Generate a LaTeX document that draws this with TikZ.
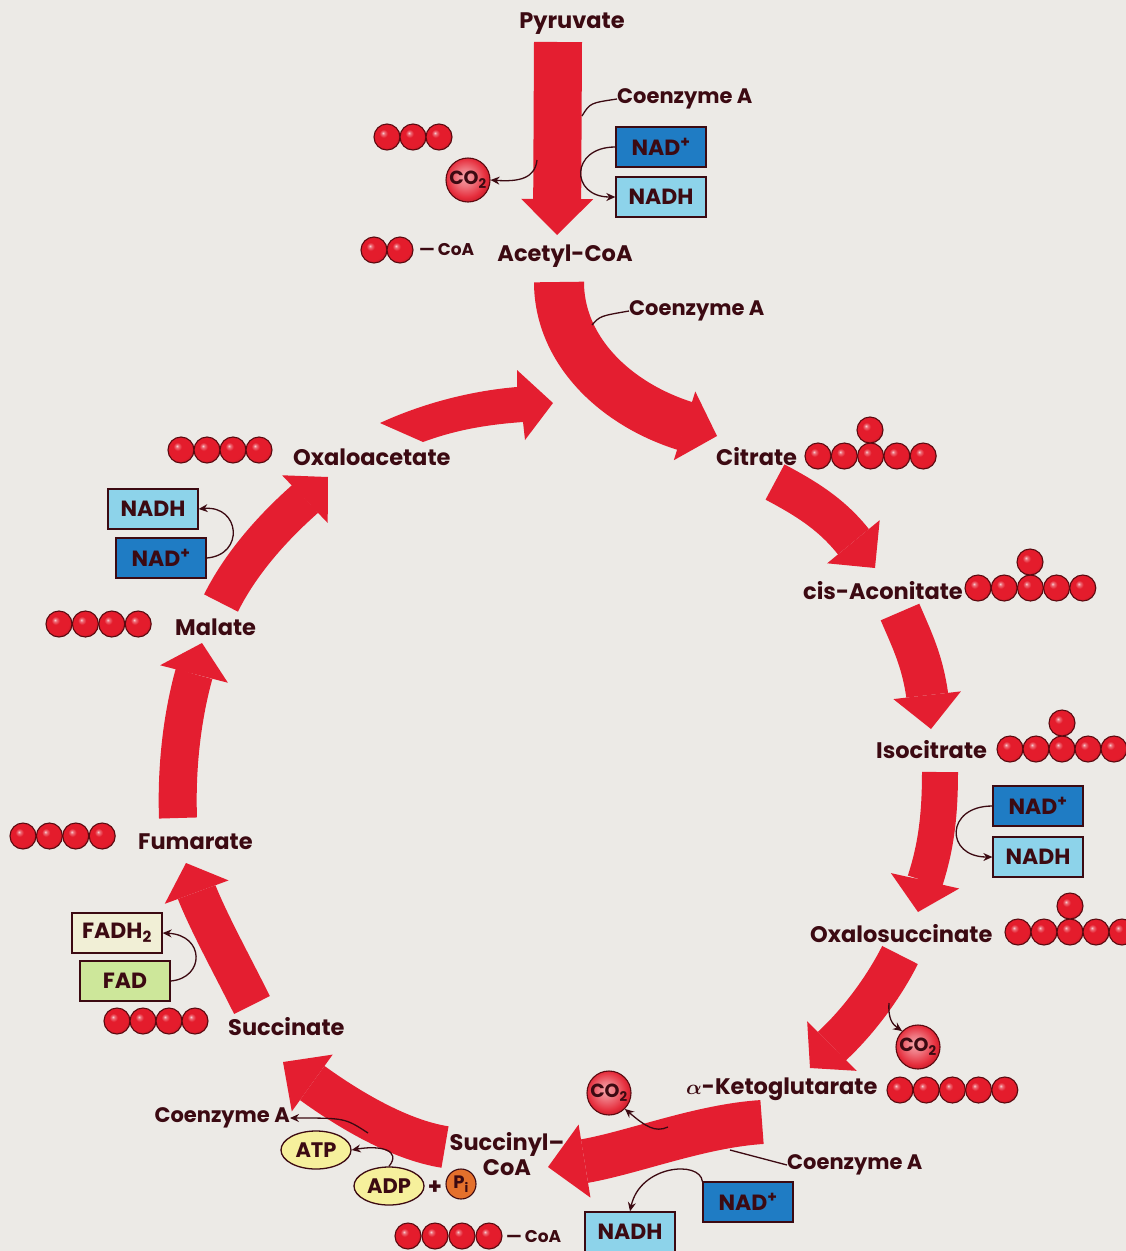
\documentclass[tikz,border=0pt]{standalone}
\usepackage{fontspec}
\usepackage{bm}
\setmainfont{Poppins}
\usetikzlibrary{arrows.meta,shapes.geometric}
\definecolor{bg}{HTML}{ECEAE6}
\definecolor{flowred}{HTML}{E41E30}
\definecolor{ink}{HTML}{3C0A12}
\definecolor{nadblue}{HTML}{1F7CC4}
\definecolor{nadhcyan}{HTML}{8DD3EA}
\definecolor{fadhcream}{HTML}{F1EFD6}
\definecolor{fadgreen}{HTML}{CDE79A}
\definecolor{atpyellow}{HTML}{F6F09C}
\definecolor{piorange}{HTML}{E4702C}
\definecolor{ballred}{HTML}{E41C2C}
\definecolor{ballrim}{HTML}{5A0A10}
% glossy carbon atom: small highlight at the upper left
\pgfdeclareradialshading{redball}{\pgfpoint{-8bp}{8bp}}{%
  color(0bp)=(white!80!ballred); color(3bp)=(ballred!65!white);
  color(8bp)=(ballred); color(24bp)=(ballred);
  color(33bp)=(ballred!78!black); color(50bp)=(ballred!60!black)}
% carbon dioxide sphere: paler core
\pgfdeclareradialshading{gasball}{\pgfpoint{-4bp}{4bp}}{%
  color(0bp)=(ballred!40!white); color(10bp)=(ballred!60!white);
  color(22bp)=(ballred!92!white); color(29bp)=(ballred!85!black);
  color(50bp)=(ballred!60!black)}

\begin{document}
\begin{tikzpicture}[x=1pt,y=-1pt,
  every node/.style={inner sep=0pt, text=ink},
  lbl/.style={font=\fontsize{22.5}{25}\selectfont\bfseries},
  coa/.style={font=\fontsize{21}{23}\selectfont\bfseries},
  tag/.style={font=\fontsize{17}{19}\selectfont\bfseries},
  flow/.style n args={3}{draw=flowred, line width=#1, line cap=butt,
    -{Triangle[width=#2, length=#3, line width=0pt]}},
  link/.style={draw=ink, line width=1.3pt},
  linkto/.style={link, -{Stealth[length=9pt, width=8pt]}},
  cof/.style={draw=ink, line width=1.3pt, minimum width=90pt, minimum height=40pt,
    font=\fontsize{22}{24}\selectfont\bfseries},
  nadp/.style={cof, fill=nadblue},
  nadh/.style={cof, fill=nadhcyan},
  nrg/.style={ellipse, draw=ink, line width=1.3pt, fill=atpyellow,
    minimum width=70pt, minimum height=38pt, font=\fontsize{21}{23}\selectfont\bfseries},
  ball/.style={circle, minimum size=26pt, draw=ballrim, line width=1.1pt, shade, shading=redball},
  gas/.style={circle, minimum size=44pt, draw=ballrim, line width=1.1pt, shade, shading=gasball,
    font=\fontsize{19}{21}\selectfont\bfseries},
]
% canvas
\fill[bg] (0,0) rectangle (1126,1251);
\useasboundingbox (0,0) rectangle (1126,1251);

% ---------- pyruvate to acetyl-CoA ----------
\node[lbl] (pyr) at (572,24) {Pyruvate};
\coordinate (a1s) at (558,42);
\coordinate (a1e) at (557,235);
\draw[flow={48pt}{72pt}{36pt}] (a1s) -- (a1e);
\node[coa, anchor=west] (coaTop) at (617,99) {Coenzyme A};
\coordinate (coaTopJ) at (582,116);
\draw[link] (coaTopJ) .. controls (590,103) .. (coaTop.west);
\node[nadp] (nadpA) at (661,147) {NAD\textsuperscript{+}};
\node[nadh] (nadhA) at (661,197) {NADH};
\draw[linkto] (nadpA.west) .. controls (570,147) and (570,197) .. (nadhA.west);
\node[gas] (co2A) at (468,180) {CO\textsubscript{2}};
\coordinate (co2AJ) at (537,160);
\draw[linkto] (co2AJ) .. controls (535,178) and (520,182) .. (co2A.east);
\foreach \i in {0,1,2} \node[ball] (pyrC\i) at ({387+26*\i},137) {};
\foreach \i in {0,1} \node[ball] (acC\i) at ({374+26*\i},250) {};
\node[tag, anchor=west] (acCoA) at (419,250) {—\,CoA};
\node[lbl] (acetyl) at (565,256) {Acetyl-CoA};

% ---------- acetyl-CoA to citrate ----------
\coordinate (a2s) at (559,282);
\coordinate (a2b) at (685,426);
\coordinate (a2e) at (717,436);
\draw[flow={50pt}{72pt}{34pt}] (a2s) .. controls (559,350) and (615,404) .. (a2b) -- (a2e);
\node[coa, anchor=west] (coaSec) at (629,311) {Coenzyme A};
\coordinate (coaSecJ) at (592,325);
\draw[link] (coaSecJ) .. controls (600,316) .. (coaSec.west);

% ---------- oxaloacetate joins ----------
\fill[flowred] (380,423) .. controls (430,400) and (480,390) .. (517,387)
  -- (517,370) -- (553,403) -- (525,440) -- (523,422)
  .. controls (480,425) and (450,432) .. (423,442) -- cycle;
\node[lbl, anchor=west] (oxa) at (293,457) {Oxaloacetate};
\foreach \i in {0,...,3} \node[ball] (oxaC\i) at ({181+26*\i},450) {};

% ---------- citrate ----------
\node[lbl, anchor=west] (cit) at (716,457) {Citrate};
\foreach \i in {0,...,4} \node[ball] (citC\i) at ({818+26.3*\i},456) {};
\node[ball] (citT) at (870,430) {};
\coordinate (a4s) at (775,482);
\coordinate (a4b) at (852,540);
\coordinate (a4e) at (875,568);
\draw[flow={40pt}{68pt}{34pt}] (a4s) .. controls (805,498) and (830,513) .. (a4b) -- (a4e);

% ---------- cis-aconitate ----------
\node[lbl, anchor=west] (cis) at (803,591) {cis-Aconitate};
\foreach \i in {0,...,4} \node[ball] (cisC\i) at ({978+26.2*\i},588) {};
\node[ball] (cisT) at (1030,562) {};
\coordinate (a5s) at (900,612);
\coordinate (a5b) at (927,694);
\coordinate (a5e) at (931,729);
\draw[flow={42pt}{68pt}{34pt}] (a5s) .. controls (912,640) and (922,660) .. (a5b) -- (a5e);

% ---------- isocitrate ----------
\node[lbl, anchor=west] (iso) at (876,750) {Isocitrate};
\foreach \i in {0,...,4} \node[ball] (isoC\i) at ({1010+26*\i},749) {};
\node[ball] (isoT) at (1062,723) {};
\coordinate (a6s) at (940,772);
\coordinate (a6b) at (925,881);
\coordinate (a6e) at (918,912);
\draw[flow={36pt}{70pt}{32pt}] (a6s) .. controls (940,820) and (935,850) .. (a6b) -- (a6e);
\node[nadp] (nadpB) at (1038,806) {NAD\textsuperscript{+}};
\node[nadh] (nadhB) at (1038,857) {NADH};
\draw[linkto] (nadpB.west) .. controls (945,806) and (945,857) .. (nadhB.west);

% ---------- oxalosuccinate ----------
\node[lbl, anchor=west] (oxs) at (810,934) {Oxalosuccinate};
\foreach \i in {0,...,4} \node[ball] (oxsC\i) at ({1018+26*\i},932) {};
\node[ball] (oxsT) at (1070,906) {};
\coordinate (a7s) at (900,955);
\coordinate (a7b) at (832,1046);
\coordinate (a7e) at (810,1068);
\draw[flow={40pt}{70pt}{31pt}] (a7s) .. controls (885,985) and (860,1020) .. (a7b) -- (a7e);
\node[gas] (co2B) at (918,1047) {CO\textsubscript{2}};
\coordinate (co2BJ) at (889,1003);
\draw[linkto] (co2BJ) .. controls (888,1018) and (892,1024) .. (co2B.north west);

% ---------- alpha-ketoglutarate ----------
\node[lbl, anchor=west] (akg) at (686,1089) {$\bm{\alpha}$-Ketoglutarate};
\foreach \i in {0,...,4} \node[ball] (akgC\i) at ({900+26.2*\i},1090) {};
\coordinate (a8s) at (762,1122);
\coordinate (a8b) at (585,1161);
\coordinate (a8e) at (548,1167);
\draw[flow={44pt}{74pt}{37pt}] (a8s) .. controls (700,1126) and (635,1152) .. (a8b) -- (a8e);
\node[gas] (co2C) at (609,1093) {CO\textsubscript{2}};
\coordinate (co2CJ) at (668,1127);
\draw[linkto] (co2CJ) .. controls (655,1133) and (645,1126) .. (co2C.south east);
\node[coa, anchor=west] (coaThird) at (787,1165) {Coenzyme A};
\coordinate (coaThirdJ) at (730,1150);
\draw[link] (coaThirdJ) -- (coaThird.west);
\node[nadp] (nadpC) at (748,1202) {NAD\textsuperscript{+}};
\node[nadh] (nadhC) at (630,1232) {NADH};
\draw[linkto] (nadpC.north west) .. controls (700,1160) and (640,1165) .. (nadhC.north);

% ---------- succinyl-CoA ----------
\node[lbl, align=center] (sucoa) at (507,1154) {Succinyl–\\CoA};
\coordinate (a9s) at (445,1147);
\coordinate (a9b) at (315,1085);
\coordinate (a9e) at (283,1062);
\draw[flow={42pt}{70pt}{36pt}] (a9s) .. controls (400,1140) and (350,1110) .. (a9b) -- (a9e);
\node[coa, anchor=east] (coaFourth) at (290,1118) {Coenzyme A};
\coordinate (coaFourthJ) at (368,1133);
\draw[linkto] (coaFourthJ) .. controls (345,1118) .. (coaFourth.east);
\node[nrg] (atp) at (316,1150) {ATP};
\node[nrg] (adp) at (389,1186) {ADP};
\node[lbl] (plus) at (435,1188) {+};
\node[circle, draw=ink, line width=1.1pt, fill=piorange, minimum size=30pt,
  font=\fontsize{18}{20}\selectfont\bfseries] (pi) at (461,1184) {P\textsubscript{i}};
\draw[linkto] (adp.north) .. controls (402,1150) and (380,1145) .. (atp.east);
\foreach \i in {0,...,3} \node[ball] (sucoaC\i) at ({408+27*\i},1236) {};
\node[tag, anchor=west] (sucoaCoA) at (506,1237) {—\,CoA};

% ---------- succinate ----------
\node[lbl, anchor=west] (suc) at (228,1027) {Succinate};
\foreach \i in {0,...,3} \node[ball] (sucC\i) at ({117+26*\i},1021) {};
\node[cof, fill=fadhcream] (fadh) at (117,933) {FADH\textsubscript{2}};
\node[cof, fill=fadgreen] (fad) at (125,981) {FAD};
\draw[linkto] (fad.east) .. controls (205,978) and (205,935) .. (fadh.east);
\coordinate (a10s) at (252,1005);
\coordinate (a10b) at (197,893);
\coordinate (a10e) at (186,863);
\draw[flow={40pt}{68pt}{31pt}] (a10s) .. controls (232,965) and (210,925) .. (a10b) -- (a10e);

% ---------- fumarate ----------
\node[lbl, anchor=west] (fum) at (138,842) {Fumarate};
\foreach \i in {0,...,3} \node[ball] (fumC\i) at ({23+26.4*\i},836) {};
\coordinate (a11s) at (178,818);
\coordinate (a11b) at (194,674);
\coordinate (a11e) at (202,643);
\draw[flow={38pt}{70pt}{32pt}] (a11s) .. controls (176,760) and (184,710) .. (a11b) -- (a11e);

% ---------- malate ----------
\node[lbl, anchor=west] (mal) at (175,627) {Malate};
\foreach \i in {0,...,3} \node[ball] (malC\i) at ({59+26.4*\i},624) {};
\node[nadh] (nadhD) at (153,509) {NADH};
\node[nadp] (nadpD) at (161,558) {NAD\textsuperscript{+}};
\draw[linkto] (nadpD.east) .. controls (245,555) and (240,505) .. (nadhD.east);
\coordinate (a12s) at (221,603);
\coordinate (a12b) at (305,499);
\coordinate (a12e) at (328,477);
\draw[flow={38pt}{66pt}{32pt}] (a12s) .. controls (240,565) and (270,530) .. (a12b) -- (a12e);
\end{tikzpicture}
\end{document}
